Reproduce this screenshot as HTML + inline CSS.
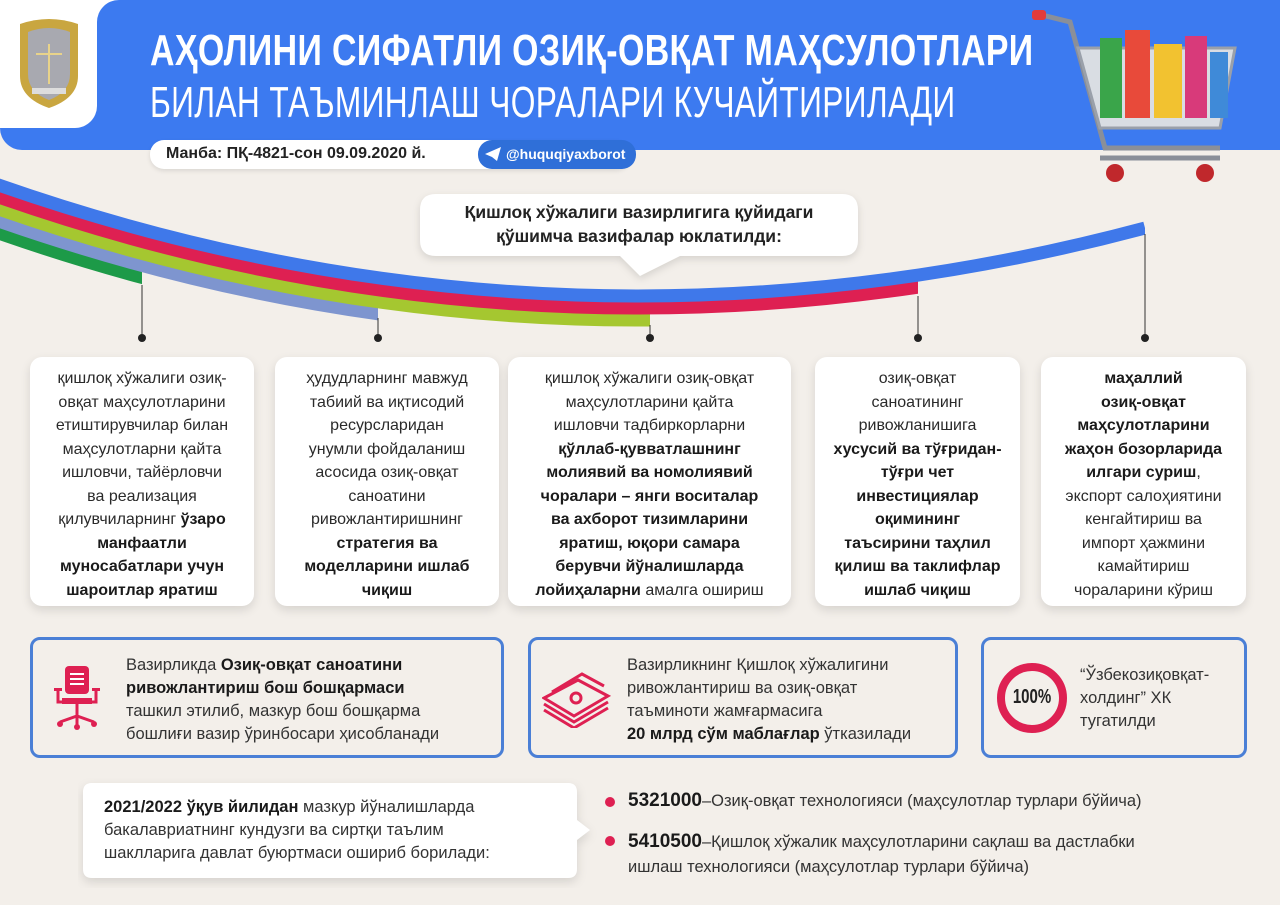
<!DOCTYPE html>
<html><head><meta charset="utf-8"><style>
*{margin:0;padding:0;box-sizing:border-box}
body{width:1280px;height:905px;background:#f3efea;position:relative;overflow:hidden;font-family:"Liberation Sans","DejaVu Sans",sans-serif;color:#222}
.abs{position:absolute}
.card{position:absolute;top:357px;height:249px;background:#fff;border-radius:12px;box-shadow:0 4px 10px rgba(0,0,0,.12);text-align:center;font-size:16px;line-height:23.5px;padding-top:10px;color:#2a2a2a}
.box{position:absolute;top:637px;height:121px;border:3px solid #4a7fd6;border-radius:10px;font-size:16.5px;line-height:22.5px;color:#333}
b{color:#1a1a1a}
</style></head><body>
<!-- header -->
<div class="abs" style="left:0;top:0;width:1280px;height:150px;background:#3c7af0;border-radius:0 0 0 22px"></div>
<div class="abs" style="left:0;top:0;width:97px;height:128px;background:#fff;border-radius:0 0 22px 0"></div>
<div class="abs" style="left:97px;top:0;width:30px;height:30px;background:#fff"></div>
<div class="abs" style="left:97px;top:0;width:30px;height:30px;background:#3c7af0;border-radius:22px 0 0 0"></div>
<!-- logo -->
<svg class="abs" style="left:14px;top:16px" width="70" height="94" viewBox="0 0 70 94">
<path d="M6 8 Q35 -2 64 8 L64 60 Q64 82 35 92 Q6 82 6 60Z" fill="#c9a640"/>
<path d="M14 16 Q35 8 56 16 L56 58 Q56 76 35 84 Q14 76 14 58Z" fill="#a8a9b0"/>
<line x1="35" y1="28" x2="35" y2="68" stroke="#e8d38a" stroke-width="2"/>
<line x1="22" y1="38" x2="48" y2="38" stroke="#e8d38a" stroke-width="2"/>
<rect x="18" y="72" width="34" height="6" fill="#ddd"/>
</svg>
<div class="abs" style="left:150px;top:26px;font-size:44px;font-weight:bold;color:#fff;white-space:nowrap;transform:scaleX(0.77);transform-origin:0 0;letter-spacing:0.5px">АҲОЛИНИ СИФАТЛИ ОЗИҚ-ОВҚАТ МАҲСУЛОТЛАРИ</div>
<div class="abs" style="left:150px;top:78px;font-size:44px;color:#fff;white-space:nowrap;transform:scaleX(0.72);transform-origin:0 0;letter-spacing:0.5px">БИЛАН ТАЪМИНЛАШ ЧОРАЛАРИ КУЧАЙТИРИЛАДИ</div>
<div class="abs" style="left:150px;top:140px;width:480px;height:29px;background:#fff;border-radius:14px;box-shadow:0 2px 5px rgba(0,0,0,.1)"></div>
<div class="abs" style="left:166px;top:145px;font-size:16px;font-weight:bold;color:#222">Манба: ПҚ-4821-сон 09.09.2020 й.</div>
<div class="abs" style="left:478px;top:140px;width:158px;height:29px;background:#2f6fd8;border-radius:14px;color:#fff;font-size:14px;font-weight:bold;padding:6px 0 0 28px">@huquqiyaxborot</div>
<svg class="abs" style="left:485px;top:147px" width="16" height="14"><path d="M0 7 L16 0 L12 14 L7 10 Z" fill="#fff"/></svg>
<!-- cart -->
<svg class="abs" style="left:1030px;top:8px" width="215" height="185" viewBox="0 0 215 185">
<path d="M8 6 L40 14 L75 140 L190 140" stroke="#8a8f99" stroke-width="5" fill="none"/>
<rect x="2" y="2" width="14" height="10" rx="3" fill="#e23b3b"/>
<path d="M48 40 L205 40 L190 120 L70 120 Z" fill="#d9dde3" stroke="#9aa0aa" stroke-width="3"/>
<rect x="70" y="30" width="22" height="80" fill="#3aa54a"/>
<rect x="95" y="22" width="25" height="88" fill="#e84a3a"/>
<rect x="124" y="36" width="28" height="74" fill="#f2c230"/>
<rect x="155" y="28" width="22" height="82" fill="#d83a7a"/>
<rect x="180" y="44" width="18" height="66" fill="#3f8ad8"/>
<circle cx="85" cy="165" r="9" fill="#c0282c"/><circle cx="175" cy="165" r="9" fill="#c0282c"/>
<path d="M70 150 L190 150" stroke="#8a8f99" stroke-width="5"/>
</svg>
<!-- ribbons -->
<svg class="abs" style="left:0;top:0" width="1280" height="360">
<defs>
<clipPath id="c1"><rect x="0" y="0" width="142" height="400"/></clipPath>
<clipPath id="c2"><rect x="0" y="0" width="378" height="400"/></clipPath>
<clipPath id="c3"><rect x="0" y="0" width="650" height="400"/></clipPath>
<clipPath id="c4"><rect x="0" y="0" width="918" height="400"/></clipPath>
<clipPath id="c5"><rect x="0" y="0" width="1145" height="400"/></clipPath>
</defs>
<g fill="none" stroke-width="13">
<path d="M-10 230 Q560 432 1145 276" stroke="#1d9a48" clip-path="url(#c1)"/>
<path d="M-10 218 Q560 420 1145 264" stroke="#7e95cf" clip-path="url(#c2)"/>
<path d="M-10 206 Q560 408 1145 252" stroke="#a5c730" clip-path="url(#c3)"/>
<path d="M-10 194 Q560 396 1145 240" stroke="#de2052" clip-path="url(#c4)"/>
<path d="M-10 182 Q560 384 1145 228" stroke="#3f78ea" clip-path="url(#c5)"/>
</g>
<g stroke="#333" stroke-width="1">
<line x1="142" y1="285" x2="142" y2="338"/><line x1="378" y1="318" x2="378" y2="338"/>
<line x1="650" y1="325" x2="650" y2="338"/><line x1="918" y1="296" x2="918" y2="338"/>
<line x1="1145" y1="234" x2="1145" y2="338"/>
</g>
<g fill="#222"><circle cx="142" cy="338" r="4"/><circle cx="378" cy="338" r="4"/><circle cx="650" cy="338" r="4"/><circle cx="918" cy="338" r="4"/><circle cx="1145" cy="338" r="4"/></g>
<path d="M420 210 Q420 194 436 194 L842 194 Q858 194 858 210 L858 240 Q858 256 842 256 L680 256 L640 276 L620 256 L436 256 Q420 256 420 240 Z" fill="#fff" style="filter:drop-shadow(0 3px 4px rgba(0,0,0,.12))"/>
</svg>
<div class="abs" style="left:420px;top:200px;width:438px;text-align:center;font-size:17.5px;font-weight:bold;line-height:24px;color:#222">Қишлоқ хўжалиги вазирлигига қуйидаги<br>қўшимча вазифалар юклатилди:</div>
<!-- cards -->
<div class="card" style="left:30px;width:224px">қишлоқ хўжалиги озиқ-<br>овқат маҳсулотларини<br>етиштирувчилар билан<br>маҳсулотларни қайта<br>ишловчи, тайёрловчи<br>ва реализация<br>қилувчиларнинг <b>ўзаро<br>манфаатли<br>муносабатлари учун<br>шароитлар яратиш</b></div>
<div class="card" style="left:275px;width:224px">ҳудудларнинг мавжуд<br>табиий ва иқтисодий<br>ресурсларидан<br>унумли фойдаланиш<br>асосида озиқ-овқат<br>саноатини<br>ривожлантиришнинг<br><b>стратегия ва<br>моделларини ишлаб<br>чиқиш</b></div>
<div class="card" style="left:508px;width:283px">қишлоқ хўжалиги озиқ-овқат<br>маҳсулотларини қайта<br>ишловчи тадбиркорларни<br><b>қўллаб-қувватлашнинг<br>молиявий ва номолиявий<br>чоралари – янги воситалар<br>ва ахборот тизимларини<br>яратиш, юқори самара<br>берувчи йўналишларда<br>лойиҳаларни</b> амалга ошириш</div>
<div class="card" style="left:815px;width:205px">озиқ-овқат<br>саноатининг<br>ривожланишига<br><b>хусусий ва тўғридан-<br>тўғри чет<br>инвестициялар<br>оқимининг<br>таъсирини таҳлил<br>қилиш ва таклифлар<br>ишлаб чиқиш</b></div>
<div class="card" style="left:1041px;width:205px"><b>маҳаллий<br>озиқ-овқат<br>маҳсулотларини<br>жаҳон бозорларида<br>илгари суриш</b>,<br>экспорт салоҳиятини<br>кенгайтириш ва<br>импорт ҳажмини<br>камайтириш<br>чораларини кўриш</div>
<!-- boxes -->
<div class="box" style="left:30px;width:474px"></div>
<svg class="abs" style="left:52px;top:664px" width="50" height="66" viewBox="0 0 50 66">
<rect x="13" y="2" width="24" height="28" rx="4" fill="#de2052"/>
<path d="M18 10h14M18 15h14M18 20h14" stroke="#fff" stroke-width="2"/>
<rect x="2" y="24" width="8" height="3" fill="#de2052"/><rect x="40" y="24" width="8" height="3" fill="#de2052"/>
<path d="M6 26 V38 H44 V26" stroke="#de2052" stroke-width="3" fill="none"/>
<rect x="10" y="34" width="30" height="6" fill="#de2052"/>
<path d="M25 40 V52 M8 58 L25 52 L42 58 M25 52 V62" stroke="#de2052" stroke-width="3" fill="none"/>
<circle cx="8" cy="60" r="3" fill="#de2052"/><circle cx="42" cy="60" r="3" fill="#de2052"/><circle cx="25" cy="63" r="3" fill="#de2052"/>
</svg>
<div class="abs" style="left:126px;top:654px;font-size:16.5px;line-height:23px;color:#333">Вазирликда <b>Озиқ-овқат саноатини<br>ривожлантириш бош бошқармаси</b><br>ташкил этилиб, мазкур бош бошқарма<br>бошлиғи вазир ўринбосари ҳисобланади</div>
<div class="box" style="left:528px;width:430px"></div>
<svg class="abs" style="left:542px;top:668px" width="70" height="60" viewBox="0 0 70 60">
<g fill="none" stroke="#de2052" stroke-width="3">
<path d="M2 30 L32 48 L66 28 L36 12 Z"/><path d="M2 36 L32 54 L66 34"/><path d="M2 42 L32 60 L66 40"/>
<path d="M10 24 L40 6 L62 18"/><circle cx="34" cy="30" r="5"/>
</g></svg>
<div class="abs" style="left:627px;top:654px;font-size:16.5px;line-height:23px;color:#333">Вазирликнинг Қишлоқ хўжалигини<br>ривожлантириш ва озиқ-овқат<br>таъминоти жамғармасига<br><b>20 млрд сўм маблағлар</b> ўтказилади</div>
<div class="box" style="left:981px;width:266px"></div>
<div class="abs" style="left:997px;top:663px;width:70px;height:70px;border:8px solid #de2052;border-radius:50%"></div>
<div class="abs" style="left:997px;top:686px;width:70px;text-align:center;font-size:20px;font-weight:bold;transform:scaleX(.75);color:#222">100%</div>
<div class="abs" style="left:1080px;top:664px;font-size:16.5px;line-height:23px;color:#333">“Ўзбекозиқовқат-<br>холдинг” ХК<br>тугатилди</div>
<!-- bottom -->
<svg class="abs" style="left:78px;top:778px" width="520" height="110"><path d="M14 5 H490 Q499 5 499 14 V42 L512 52 L499 62 V91 Q499 100 490 100 H14 Q5 100 5 91 V14 Q5 5 14 5Z" fill="#fff" style="filter:drop-shadow(0 4px 5px rgba(0,0,0,.12))"/></svg>
<div class="abs" style="left:104px;top:796px;font-size:16.5px;line-height:23px;color:#333"><b>2021/2022 ўқув йилидан</b> мазкур йўналишларда<br>бакалавриатнинг кундузги ва сиртқи таълим<br>шаклларига давлат буюртмаси ошириб борилади:</div>
<div class="abs" style="left:605px;top:797px;width:10px;height:10px;border-radius:50%;background:#de2052"></div>
<div class="abs" style="left:628px;top:790px;font-size:16.5px;color:#333"><b style="font-size:19px">5321000</b>–Озиқ-овқат технологияси (маҳсулотлар турлари бўйича)</div>
<div class="abs" style="left:605px;top:836px;width:10px;height:10px;border-radius:50%;background:#de2052"></div>
<div class="abs" style="left:628px;top:829px;font-size:16.5px;line-height:25px;color:#333"><b style="font-size:19px">5410500</b>–Қишлоқ хўжалик маҳсулотларини сақлаш ва дастлабки<br>ишлаш технологияси (маҳсулотлар турлари бўйича)</div>
</body></html>
